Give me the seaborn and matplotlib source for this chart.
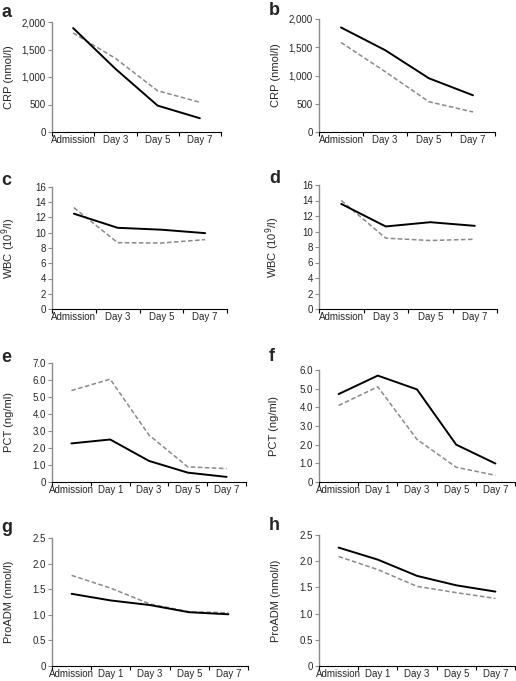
import matplotlib
matplotlib.use("Agg")
import matplotlib.pyplot as plt
import seaborn as sns
import numpy as np
import pandas as pd
from matplotlib.ticker import FixedLocator

sns.set_style("ticks")
plt.rcParams['font.family'] = ['Liberation Sans', 'DejaVu Sans']

days4 = ["Admission", "Day 3", "Day 5", "Day 7"]
days5 = ["Admission", "Day 1", "Day 3", "Day 5", "Day 7"]

crp_a_solid = [1890, 1150, 480, 250]
crp_a_dash = [1800, 1340, 750, 540]
crp_b_solid = [1850, 1450, 950, 650]
crp_b_dash = [1585, 1070, 535, 355]
wbc_c_solid = [12.5, 10.65, 10.4, 9.95]
wbc_c_dash = [13.3, 8.7, 8.65, 9.1]
wbc_d_solid = [13.56, 10.65, 11.2, 10.73]
wbc_d_dash = [14.0, 9.14, 8.84, 9.0]
pct_e_solid = [2.27, 2.5, 1.24, 0.55, 0.3]
pct_e_dash = [5.38, 6.05, 2.76, 0.89, 0.79]
pct_f_solid = [4.71, 5.7, 4.96, 2.0, 0.99]
pct_f_dash = [4.1, 5.1, 2.28, 0.79, 0.36]
adm_g_solid = [1.41, 1.28, 1.19, 1.05, 1.01]
adm_g_dash = [1.77, 1.52, 1.21, 1.06, 1.04]
adm_h_solid = [2.26, 2.03, 1.72, 1.54, 1.42]
adm_h_dash = [2.09, 1.84, 1.52, 1.40, 1.29]

crp_ticks = [0, 500, 1000, 1500, 2000]
crp_labels = ["0", "500", "1,000", "1,500", "2,000"]
wbc_ticks = [0, 2, 4, 6, 8, 10, 12, 14, 16]
wbc_labels = [str(t) for t in wbc_ticks]
pct_e_ticks = [0, 1, 2, 3, 4, 5, 6, 7]
pct_e_labels = ["0", "1.0", "2.0", "3.0", "4.0", "5.0", "6.0", "7.0"]
pct_f_ticks = [0, 1, 2, 3, 4, 5, 6]
pct_f_labels = ["0", "1.0", "2.0", "3.0", "4.0", "5.0", "6.0"]
adm_ticks = [0, 0.5, 1.0, 1.5, 2.0, 2.5]
adm_labels = ["0", "0.5", "1.0", "1.5", "2.0", "2.5"]

W, H = 516, 681
fig = plt.figure(figsize=(W / 100, H / 100), dpi=100)

panels = [
    ("a", (52, 22, 221, 132), days4, crp_a_solid, crp_a_dash, crp_ticks, crp_labels, "CRP (nmol/l)", 14, (1, 4)),
    ("b", (319, 19, 495, 132), days4, crp_b_solid, crp_b_dash, crp_ticks, crp_labels, "CRP (nmol/l)", 281, (269, 2)),
    ("c", (52, 187, 227, 309), days4, wbc_c_solid, wbc_c_dash, wbc_ticks, wbc_labels, "WBC (10$^9$/l)", 18, (1, 172)),
    ("d", (319, 185, 497, 309), days4, wbc_d_solid, wbc_d_dash, wbc_ticks, wbc_labels, "WBC (10$^9$/l)", 282, (269, 170)),
    ("e", (52, 363, 246, 482), days5, pct_e_solid, pct_e_dash, pct_e_ticks, pct_e_labels, "PCT (ng/ml)", 14, (1, 349)),
    ("f", (319, 370, 515, 482), days5, pct_f_solid, pct_f_dash, pct_f_ticks, pct_f_labels, "PCT (ng/ml)", 279, (269, 348)),
    ("g", (52, 538, 248, 666), days5, adm_g_solid, adm_g_dash, adm_ticks, adm_labels, "ProADM (nmol/l)", 14, (1, 519)),
    ("h", (319, 535, 515, 666), days5, adm_h_solid, adm_h_dash, adm_ticks, adm_labels, "ProADM (nmol/l)", 281, (269, 517)),
]

gray = "#8c8c8c"
for letter, (l, t, r, b), cats, solid, dash, yt, yl, ylab, lx, (px, py) in panels:
    ax = fig.add_axes([l / W, 1 - b / H, (r - l) / W, (b - t) / H])
    n = len(cats)
    df = pd.DataFrame({"x": np.arange(n), "solid": solid, "dash": dash})
    sns.lineplot(data=df, x="x", y="dash", ax=ax, color="#8a8a8a", lw=1.1,
                 linestyle=(0, (3, 1.6)))
    sns.lineplot(data=df, x="x", y="solid", ax=ax, color="black", lw=1.4)
    ax.set_xlim(-0.5, n - 0.5)
    ax.set_ylim(yt[0], yt[-1])
    ax.set_yticks(yt)
    ax.set_yticklabels(yl, fontsize=7)
    ax.xaxis.set_major_locator(FixedLocator(np.arange(n + 1) - 0.5))
    ax.set_xticklabels([""] * (n + 1))
    ax.xaxis.set_minor_locator(FixedLocator(np.arange(n)))
    ax.set_xticklabels(cats, minor=True, fontsize=7)
    ax.tick_params(axis="x", which="major", length=3, width=0.8, color="black", direction="out")
    ax.tick_params(axis="x", which="minor", length=0, pad=2)
    ax.tick_params(axis="y", length=3, width=0.8, color=gray, pad=1.5)
    for s in ["top", "right"]:
        ax.spines[s].set_visible(False)
    ax.spines["left"].set_color(gray)
    ax.spines["left"].set_linewidth(1.0)
    ax.spines["bottom"].set_color("black")
    ax.spines["bottom"].set_linewidth(0.8)
    ax.set_xlabel("")
    ax.set_ylabel(ylab, fontsize=8)
    ax.yaxis.set_label_coords((lx - l) / (r - l), 0.5)
    fig.text(px / W, 1 - py / H, letter, fontsize=13, fontweight="bold", va="top", ha="left")

fig.savefig("out.png", dpi=100)
